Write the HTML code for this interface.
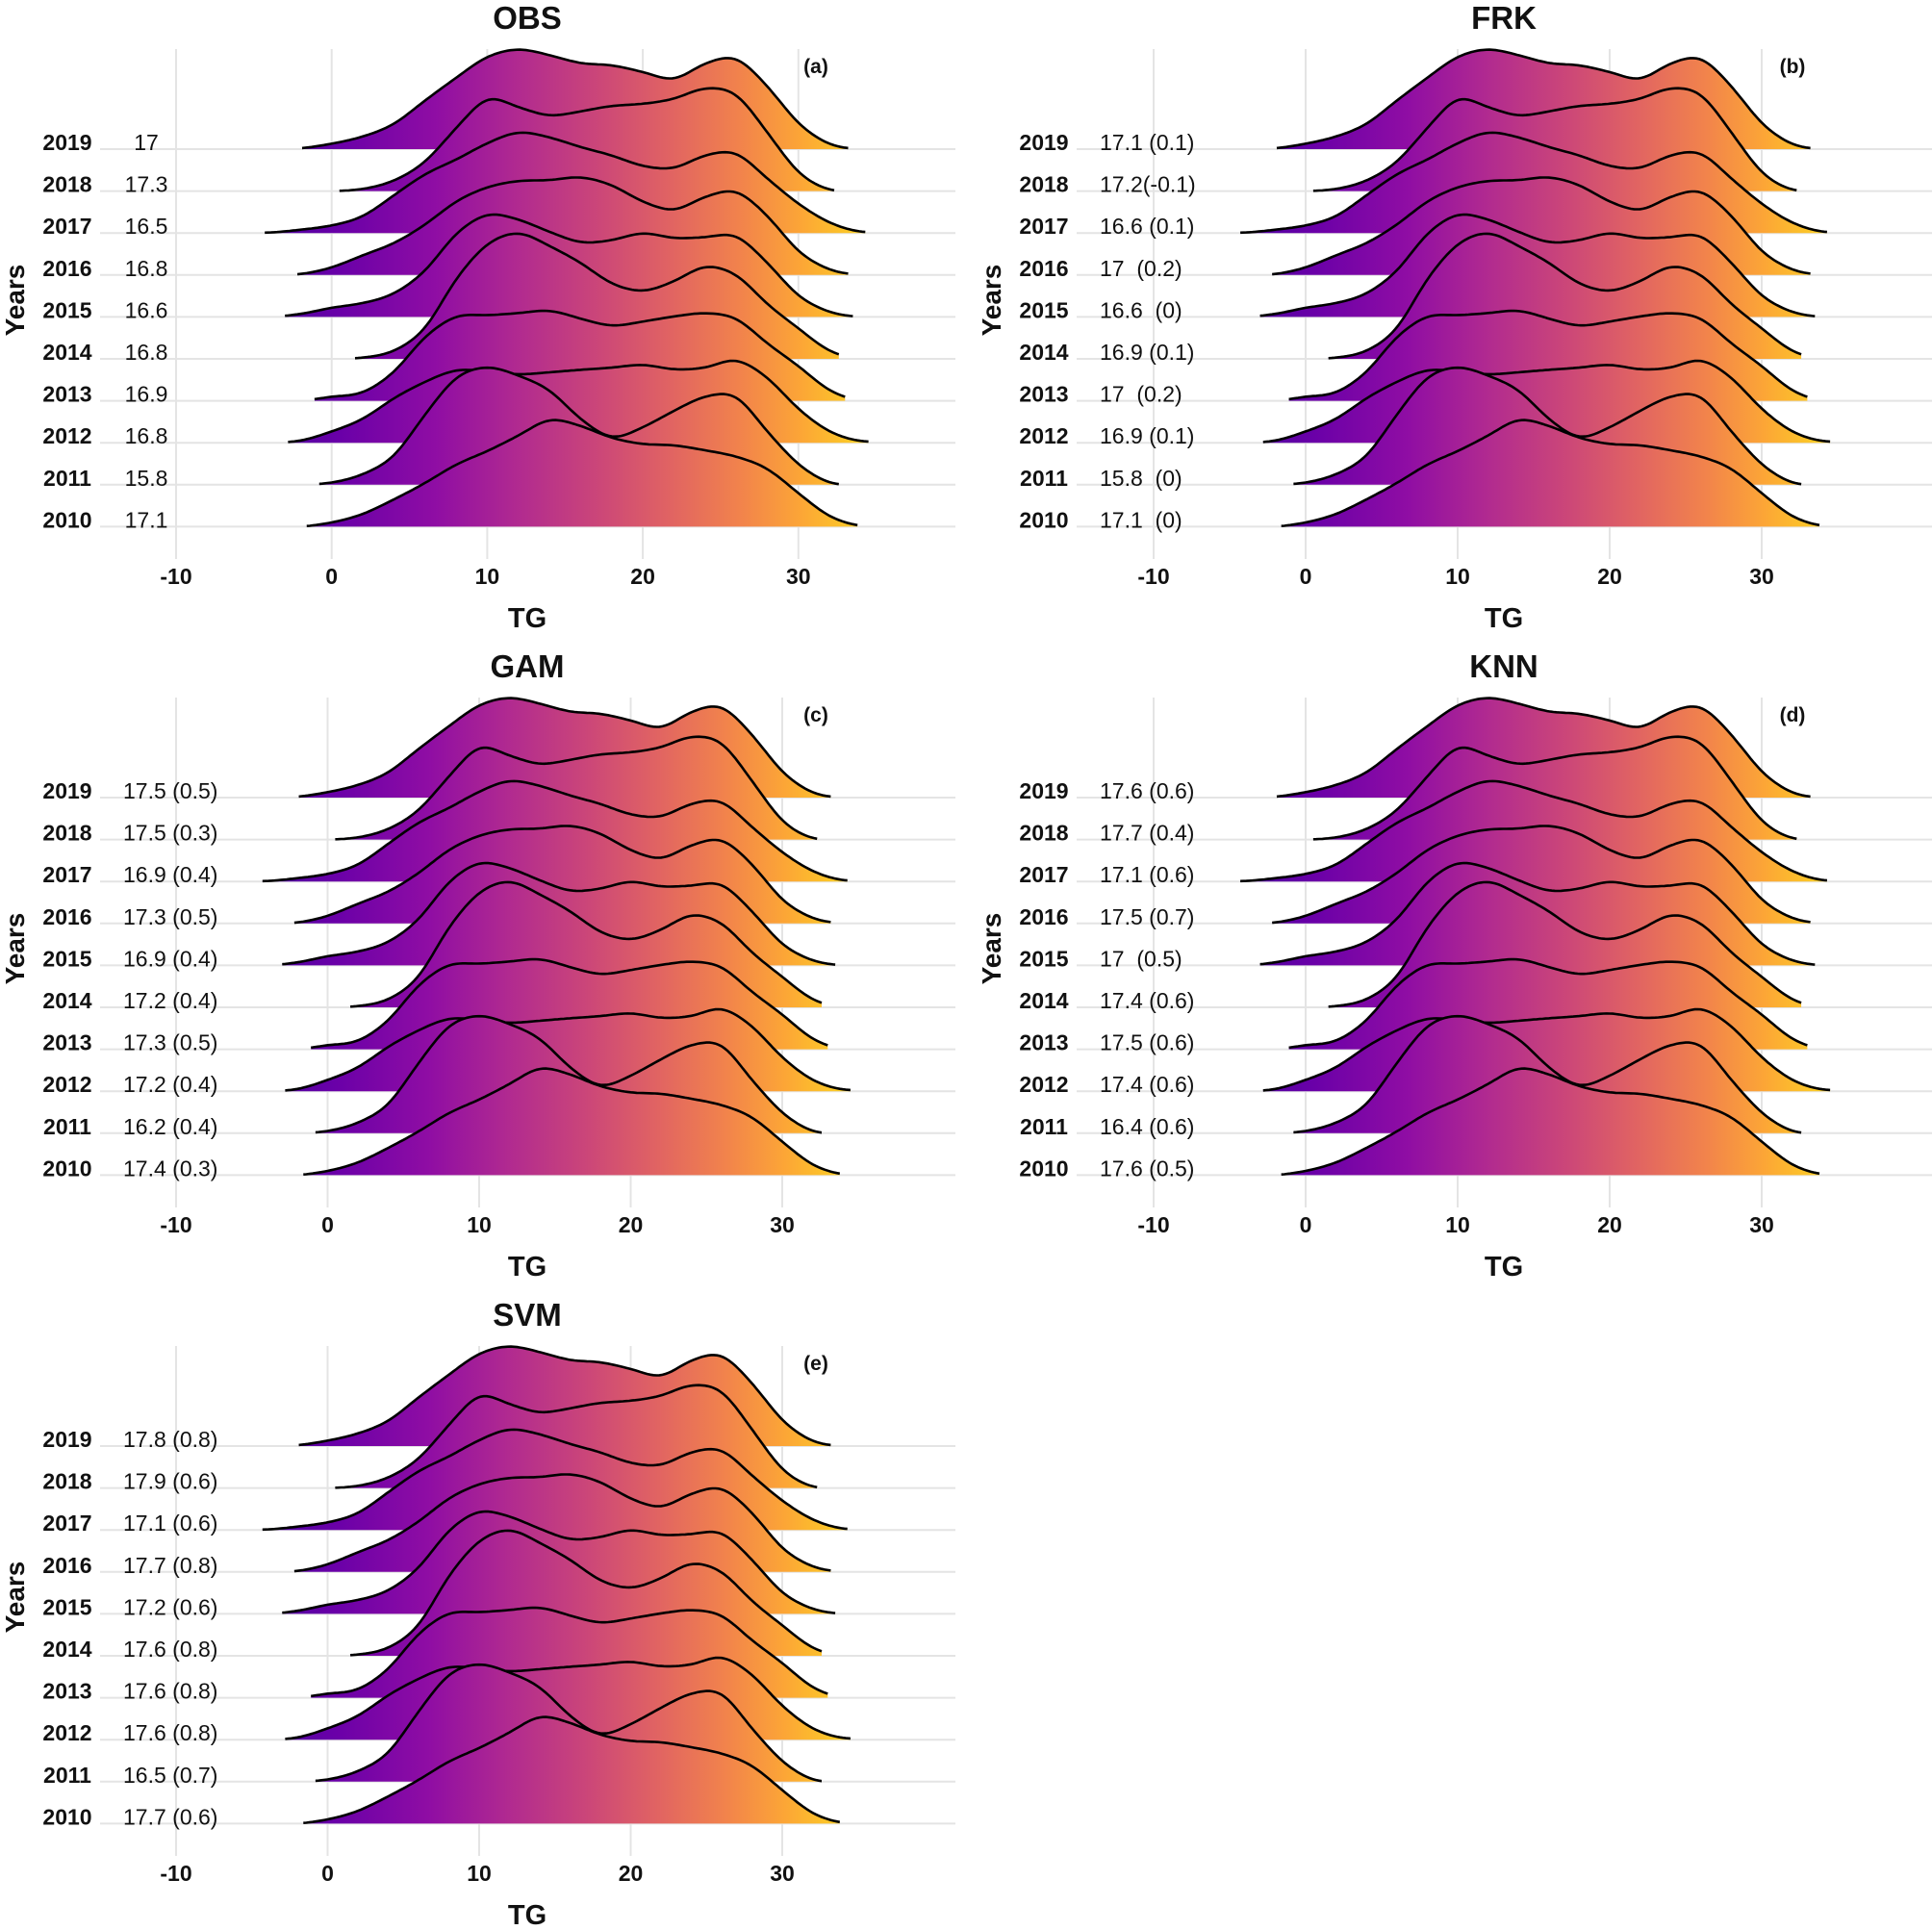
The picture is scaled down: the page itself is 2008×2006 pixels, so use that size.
<!DOCTYPE html>
<html><head><meta charset="utf-8"><style>
html,body{margin:0;padding:0;background:#fff;}
svg{display:block;font-family:"Liberation Sans",sans-serif;}
</style></head><body>
<svg id="chart" width="2008" height="2006" viewBox="0 0 2008 2006" xmlns="http://www.w3.org/2000/svg">
<defs></defs>
</svg>
<script>
const years = ["2019","2018","2017","2016","2015","2014","2013","2012","2011","2010"];
const gridX = [-4,-2,0,2,4,6,8,10,12,14,16,18,20,22,24,26,28,30,32,34];
const d2019 = [0,0.02,0.13,0.3,0.6,1.16,1.7,2.2,2.38,2.24,2.05,2.0,1.84,1.67,2.04,2.16,1.5,0.62,0.12,0];
const d2018 = [0,0,0,0.05,0.25,0.7,1.5,2.2,2.0,1.8,1.9,2.03,2.08,2.2,2.45,2.3,1.4,0.45,0.03,0];
const d2017 = [0.01,0.08,0.18,0.4,0.9,1.4,1.75,2.14,2.4,2.28,2.05,1.85,1.6,1.55,1.85,1.9,1.3,0.7,0.25,0.03];
const d2016 = [0,0.02,0.18,0.47,0.76,1.2,1.75,2.09,2.24,2.26,2.33,2.14,1.75,1.55,1.86,1.99,1.41,0.57,0.13,0];
const d2015 = [0,0.07,0.22,0.33,0.56,1.1,1.98,2.44,2.32,2.03,1.78,1.83,2.0,1.88,1.9,1.93,1.29,0.51,0.12,0];
const d2014 = [0,0,0,0.03,0.19,0.73,1.9,2.73,3.0,2.69,2.29,1.8,1.62,1.85,2.2,2.0,1.31,0.73,0.19,0];
const d2013 = [0,0,0.1,0.2,0.69,1.52,2.01,2.04,2.09,2.15,1.96,1.79,1.89,2.01,2.09,1.96,1.37,0.83,0.25,0];
const d2012 = [0,0.05,0.27,0.57,1.06,1.45,1.73,1.7,1.63,1.68,1.74,1.79,1.86,1.75,1.79,1.97,1.55,0.81,0.27,0.04];
const d2011 = [0,0,0.05,0.25,0.69,1.67,2.55,2.8,2.6,2.25,1.57,1.13,1.37,1.76,2.1,2.1,1.27,0.49,0.05,0];
const d2010 = [0,0,0.1,0.3,0.65,1.04,1.48,1.8,2.17,2.55,2.4,2.12,1.97,1.94,1.82,1.67,1.38,0.8,0.25,0.02];
const densities = [d2019,d2018,d2017,d2016,d2015,d2014,d2013,d2012,d2011,d2010];
const rangeMin = [-1.9,0.5,-4.3,-2.2,-3,1.5,-1.1,-2.8,-0.8,-1.6];
const rangeMax = [33.2,32.3,34.3,33.2,33.5,32.6,33,34.5,32.6,33.8];
const xTicks = [-10,0,10,20,30];
const panelTitles = ["OBS","FRK","GAM","KNN","SVM"];
const panelTags = ["(a)","(b)","(c)","(d)","(e)"];
const labelsA = ["17","17.3","16.5","16.8","16.6","16.8","16.9","16.8","15.8","17.1"];
const labelsB = ["17.1 (0.1)","17.2(-0.1)","16.6 (0.1)","17  (0.2)","16.6  (0)","16.9 (0.1)","17  (0.2)","16.9 (0.1)","15.8  (0)","17.1  (0)"];
const labelsC = ["17.5 (0.5)","17.5 (0.3)","16.9 (0.4)","17.3 (0.5)","16.9 (0.4)","17.2 (0.4)","17.3 (0.5)","17.2 (0.4)","16.2 (0.4)","17.4 (0.3)"];
const labelsD = ["17.6 (0.6)","17.7 (0.4)","17.1 (0.6)","17.5 (0.7)","17  (0.5)","17.4 (0.6)","17.5 (0.6)","17.4 (0.6)","16.4 (0.6)","17.6 (0.5)"];
const labelsE = ["17.8 (0.8)","17.9 (0.6)","17.1 (0.6)","17.7 (0.8)","17.2 (0.6)","17.6 (0.8)","17.6 (0.8)","17.6 (0.8)","16.5 (0.7)","17.7 (0.6)"];
const panelLabels = [labelsA,labelsB,labelsC,labelsD,labelsE];

const NS="http://www.w3.org/2000/svg";
const svg=document.getElementById('chart');
const defs=svg.querySelector('defs');
function mk(tag,attrs,parent){const e=document.createElementNS(NS,tag);for(const k in attrs)e.setAttribute(k,attrs[k]);(parent||svg).appendChild(e);return e;}

const panels=[
 {ox:0,oy:0,xm10:183,unit:16.17},
 {ox:1015,oy:0,xm10:1199,unit:15.8},
 {ox:0,oy:674,xm10:183,unit:15.75},
 {ox:1015,oy:674,xm10:1199,unit:15.8},
 {ox:0,oy:1348,xm10:183,unit:15.75}
];
const rowH=43.6;

function dens(arr,x){
  const step=gridX[1]-gridX[0];
  let t=(x-gridX[0])/step; let i=Math.floor(t); let f=t-i;
  const g=k=>arr[Math.max(0,Math.min(arr.length-1,k))];
  const p0=g(i-1),p1=g(i),p2=g(i+1),p3=g(i+2);
  const v=0.5*((2*p1)+(-p0+p2)*f+(2*p0-5*p1+4*p2-p3)*f*f+(-p0+3*p1-3*p2+p3)*f*f*f);
  return Math.max(0,v);
}
function smooth(arr,x){return (dens(arr,x-0.6)+2*dens(arr,x)+dens(arr,x+0.6))/4;}

panels.forEach((P,pi)=>{
  const g=mk('g',{});
  
  
  const x0=P.xm10+10*P.unit;
  const xs=v=>x0+v*P.unit;
  const base=i=>P.oy+155+i*rowH;
  const gid='grad'+pi;
  const lg=mk('linearGradient',{id:gid,gradientUnits:'userSpaceOnUse',x1:xs(-4),y1:0,x2:xs(34),y2:0},defs);
  [[0,'#4c02a1'],[0.12,'#6a00a8'],[0.28,'#8f0da4'],[0.42,'#b12a90'],[0.56,'#cc4778'],[0.68,'#e16462'],[0.8,'#f2844b'],[0.9,'#fca636'],[1,'#fcce25']].forEach(s=>mk('stop',{offset:s[0],'stop-color':s[1]},lg));
  xTicks.forEach(t=>{
    const l=mk('line',{x1:xs(t),x2:xs(t),y1:P.oy+51,y2:P.oy+581,stroke:'#e4e4e4','stroke-width':2},g);
    
    
  });
  years.forEach((y,i)=>{
    const l=mk('line',{x1:P.ox+104,x2:P.ox+993,y1:base(i),y2:base(i),stroke:'#e4e4e4','stroke-width':2},g);
    
    
  });
  years.forEach((y,i)=>{
    const arr=densities[i];const a=rangeMin[i],b=rangeMax[i];
    let pts=[];
    for(let v=a;v<=b+1e-6;v+=0.2){pts.push([xs(v),base(i)-smooth(arr,v)*rowH]);}
    pts.push([xs(b),base(i)-smooth(arr,b)*rowH]);
    const line=pts.map((p,k)=>(k?'L':'M')+p[0].toFixed(1)+' '+p[1].toFixed(1)).join(' ');
    const fill=mk('path',{d:line+` L${xs(b).toFixed(1)} ${base(i)} L${xs(a).toFixed(1)} ${base(i)} Z`,fill:`url(#${gid})`},g);
    
    
    const st=mk('path',{d:line,fill:'none',stroke:'#000','stroke-width':2.6},g);
    
    
  });
  years.forEach((y,i)=>{
    const t=mk('text',{x:P.ox+70,y:base(i)+1,'text-anchor':'middle','font-size':23,'font-weight':'bold',fill:'#111'},g);
    t.textContent=y;
    
    
    const lab=panelLabels[pi][i];
    const attrs=pi===0?{x:P.ox+152,'text-anchor':'middle'}:{x:P.ox+128,'text-anchor':'start'};
    const v=mk('text',Object.assign(attrs,{y:base(i)+1,'font-size':23,fill:'#111'}),g);
    v.style.whiteSpace='pre';
    v.textContent=lab;
    
    
  });
  xTicks.forEach(t=>{
    const tx=mk('text',{x:xs(t),y:P.oy+607,'text-anchor':'middle','font-size':23,'font-weight':'bold',fill:'#111'},g);
    tx.textContent=t;
    
    
  });
  const xt=mk('text',{x:P.ox+548,y:P.oy+652,'text-anchor':'middle','font-size':29,'font-weight':'bold',fill:'#111'},g);
  xt.textContent='TG';
  
  
  const yt=mk('text',{x:0,y:0,transform:`translate(${P.ox+25},${P.oy+312}) rotate(-90)`,'text-anchor':'middle','font-size':28,'font-weight':'bold',fill:'#111'},g);
  yt.textContent='Years';
  
  
  const ti=mk('text',{x:P.ox+548,y:P.oy+30,'text-anchor':'middle','font-size':33,'font-weight':'bold',fill:'#111'},g);
  ti.textContent=panelTitles[pi];
  
  
  const tg=mk('text',{x:P.ox+848,y:P.oy+76,'text-anchor':'middle','font-size':21,'font-weight':'bold',fill:'#111'},g);
  tg.textContent=panelTags[pi];
  
  
});
</script>
</body></html>
